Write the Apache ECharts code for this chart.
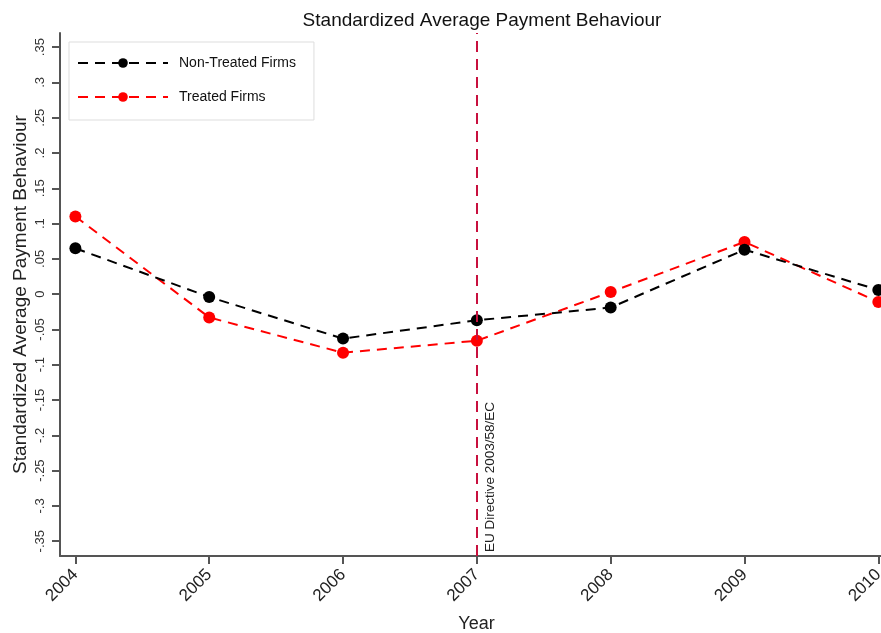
<!DOCTYPE html>
<html><head><meta charset="utf-8">
<script src="https://cdn.jsdelivr.net/npm/echarts@6/dist/echarts.min.js"></script>
<style>html,body{margin:0;padding:0;background:#fff}#c{width:881px;height:633px}</style>
</head><body><div id="c"></div>
<script>
const years = [2004, 2005, 2006, 2007, 2008, 2009, 2010];
const nonTreated = [0.065, -0.004, -0.063, -0.037, -0.019, 0.063, 0.006];
const treated = [0.110, -0.033, -0.083, -0.066, 0.003, 0.074, -0.011];
const yTicks = [-0.35, -0.3, -0.25, -0.2, -0.15, -0.1, -0.05, 0, 0.05, 0.1, 0.15, 0.2, 0.25, 0.3, 0.35];
const eventYear = 2007;
const eventLabel = 'EU Directive 2003/58/EC';

function fmtY(v){
  v = Math.round(v*100)/100;
  if (v === 0) return '0';
  let s = Math.abs(v).toFixed(2).replace(/^0/, '').replace(/0$/, '');
  return (v < 0 ? '-' : '') + s;
}
const font = 'Liberation Sans, Arial, sans-serif';
const chart = echarts.init(document.getElementById('c'), null, {renderer: 'canvas'});
const axisCol = '#555';
chart.setOption({
  animation: false,
  backgroundColor: '#fff',
  title: {text: 'Standardized Average Payment Behaviour', left: 477, textAlign: 'center', top: 6,
    textStyle: {fontFamily: font, fontSize: 19, fontWeight: 'normal', color: '#111'}},
  grid: {left: 60, right: 0, top: 33, bottom: 77, outerBoundsMode: 'none', containLabel: false},
  legend: {
    orient: 'vertical', left: 69, top: 42, itemWidth: 90, itemHeight: 12, itemGap: 20,
    borderColor: '#ddd', borderWidth: 1, padding: [14, 18, 16, 8],
    textStyle: {fontFamily: font, fontSize: 14, color: '#111', padding: [0,0,0,6]},
    data: ['Non-Treated Firms', 'Treated Firms']
  },
  xAxis: {
    type: 'value', min: 2003.885, max: 2010.02, name: 'Year', nameLocation: 'middle', nameGap: 59,
    nameMoveOverlap: false,
    nameTextStyle: {fontFamily: font, fontSize: 18, color: '#222', padding: [0, 0, 0, 12]},
    splitLine: {show: false},
    axisLine: {onZero: false, lineStyle: {color: axisCol, width: 2}},
    axisTick: {show: true, length: 8, lineStyle: {color: axisCol, width: 2}, customValues: years},
    axisLabel: {customValues: years, rotate: 45, fontFamily: font, fontSize: 17, color: '#222', margin: 16,
      formatter: v => String(v)}
  },
  yAxis: {
    type: 'value', min: -0.371, max: 0.37,
    name: 'Standardized Average Payment Behaviour', nameLocation: 'middle', nameGap: 30, nameRotate: 90,
    nameMoveOverlap: false,
    nameTextStyle: {fontFamily: font, fontSize: 19, color: '#222'},
    splitLine: {show: false},
    axisLine: {show: true, onZero: false, lineStyle: {color: axisCol, width: 2}},
    axisTick: {show: true, length: 8, lineStyle: {color: axisCol, width: 2}, customValues: yTicks},
    axisLabel: {customValues: yTicks, rotate: 90, fontFamily: font, fontSize: 13, color: '#333', margin: 13,
      formatter: fmtY}
  },
  series: [
    {name: 'Non-Treated Firms', type: 'line', data: years.map((y,i)=>[y, nonTreated[i]]),
      symbol: 'circle', symbolSize: 12, itemStyle: {color: '#000'},
      lineStyle: {color: '#000', width: 2, type: [10, 7]}, z: 3,
      markLine: {silent: true, symbol: 'none', animation: false,
        lineStyle: {color: '#c8103e', width: 2, type: [11, 7]},
        label: {show: true, position: 'insideStartBottom', formatter: eventLabel, fontFamily: font, fontSize: 13.5, color: '#222', distance: [4, 6]},
        data: [{xAxis: eventYear}]}},
    {name: 'Treated Firms', type: 'line', data: years.map((y,i)=>[y, treated[i]]),
      symbol: 'circle', symbolSize: 12, itemStyle: {color: '#ff0000'},
      lineStyle: {color: '#ff0000', width: 2, type: [10, 7]}, z: 2}
  ]
});
</script></body></html>
